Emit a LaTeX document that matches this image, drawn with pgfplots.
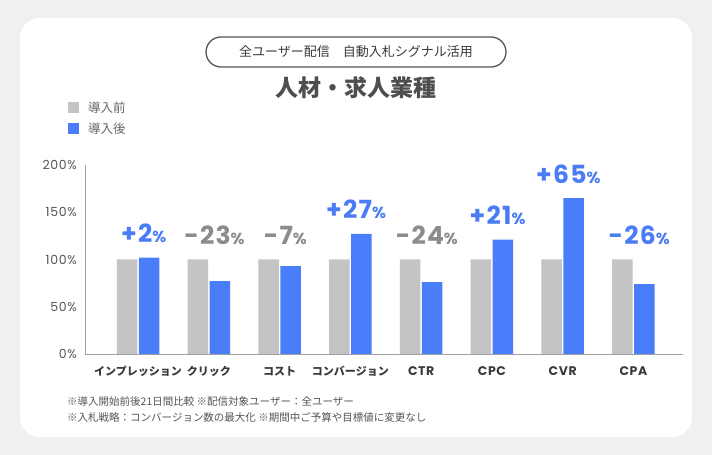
\documentclass[border=0pt]{standalone}
\usepackage{pgfplots}
\pgfplotsset{compat=1.18}
\usepackage{pgfplotstable}
\usepackage{fontspec}
\setmainfont{Poppins}
\newfontfamily\jp{Noto Sans CJK JP}
\newfontfamily\popwide{Poppins}[LetterSpace=5]
\newcommand{\jplabel}[1]{{\jp\fontsize{11}{11}\selectfont #1}}

\definecolor{pagebg}{HTML}{F0F0F0}
\definecolor{beforecol}{HTML}{C4C4C4}
\definecolor{aftercol}{HTML}{4A7DFA}
\definecolor{gaincol}{HTML}{4A7CF5}
\definecolor{losscol}{HTML}{8C8C8C}
\definecolor{ink}{HTML}{3A3A3A}
\definecolor{tickink}{HTML}{555555}
\definecolor{axisgray}{HTML}{A0A0A0}

% index relative to the period before (before = 100)
% good = 1 where the change is favourable
\pgfplotstableread{
x before after good
0 100 102 1
1 100 77  0
2 100 93  0
3 100 127 1
4 100 76  0
5 100 121 1
6 100 165 1
7 100 74  1
}\metrics

\pgfplotsset{
  change label/.style={
    draw=none, mark=none,
    restrict expr to domain={\thisrow{good}}{#1:#1},
    point meta={\thisrow{after}-100},
    nodes near coords={\bfseries\popwide\fontsize{25}{25}\selectfont
      \pgfmathprintnumber[fixed,precision=0,print sign=true]{\pgfplotspointmeta}%
      {\fontsize{16}{16}\selectfont\%}},
    every node near coord/.append style={anchor=base, yshift=15pt, inner sep=0pt},
  },
}

\begin{document}
\begin{tikzpicture}[x=1pt,y=1pt]
  % page and card
  \fill[pagebg] (0,0) rectangle (712,455);
  \fill[white, rounded corners=20pt] (20,18) rectangle (692,437);

  % header
  \draw[line width=1.3pt, draw=tickink, rounded corners=15pt] (206,388) rectangle (506,418);
  \node[text=ink, font=\jp\fontsize{13}{13}\selectfont] at (356,403) {全ユーザー配信　自動入札シグナル活用};
  \node[text=ink!90, font=\jp\bfseries\fontsize{23}{23}\selectfont] at (356,367) {人材・求人業種};

  % legend
  \fill[beforecol] (67.5,342) rectangle (78.5,353);
  \fill[aftercol] (67.5,320.5) rectangle (78.5,331.5);
  \node[anchor=west, text=tickink!90, font=\jp\fontsize{12.5}{12.5}\selectfont, inner sep=0pt] at (88,347.5) {導入前};
  \node[anchor=west, text=tickink!90, font=\jp\fontsize{12.5}{12.5}\selectfont, inner sep=0pt] at (88,326) {導入後};

  \begin{axis}[
    at={(85pt,101pt)}, anchor=south west,
    scale only axis, width=598pt, height=189pt,
    xmin=-0.75, xmax=7.7, ymin=0, ymax=200,
    axis x line*=bottom, axis y line*=left,
    axis line style={axisgray, line width=0.9pt, -},
    major tick length=0pt,
    ytick={0,50,100,150,200},
    yticklabel={\pgfmathprintnumber{\tick}\%},
    yticklabel style={anchor=east, xshift=-8pt, inner sep=0pt, text=tickink,
      font=\popwide\fontsize{12.5}{12.5}\selectfont},
    xtick={0,...,7},
    xticklabels={\jplabel{インプレッション},\jplabel{クリック},\jplabel{コスト},\jplabel{コンバージョン},CTR,CPC,CVR,CPA},
    xticklabel style={anchor=center, yshift=-17pt, inner sep=0pt, text=ink,
      font=\popwide\bfseries\fontsize{12.5}{12.5}\selectfont},
    /pgf/number format/assume math mode=true,
    clip=false,
  ]
    \addplot[ybar, bar width=20.5pt, bar shift=-11pt, fill=beforecol, draw=none]
      table[x=x, y=before]{\metrics};
    \addplot[ybar, bar width=20.5pt, bar shift=11pt, fill=aftercol, draw=none]
      table[x=x, y=after]{\metrics};

    \addplot[change label=1, nodes near coords style={text=gaincol}]
      table[x expr=\thisrow{x}+0.08, y expr={max(\thisrow{after},100)}]{\metrics};
    \addplot[change label=0, nodes near coords style={text=losscol}]
      table[x expr=\thisrow{x}+0.08, y expr={max(\thisrow{after},100)}]{\metrics};
  \end{axis}

  % footnotes
  \node[anchor=west, inner sep=0pt, text=tickink, font=\jp\fontsize{10.5}{10.5}\selectfont] at (67,53) {※導入開始前後21日間比較 ※配信対象ユーザー：全ユーザー};
  \node[anchor=west, inner sep=0pt, text=tickink, font=\jp\fontsize{10.5}{10.5}\selectfont] at (67,37) {※入札戦略：コンバージョン数の最大化 ※期間中ご予算や目標値に変更なし};
\end{tikzpicture}
\end{document}
